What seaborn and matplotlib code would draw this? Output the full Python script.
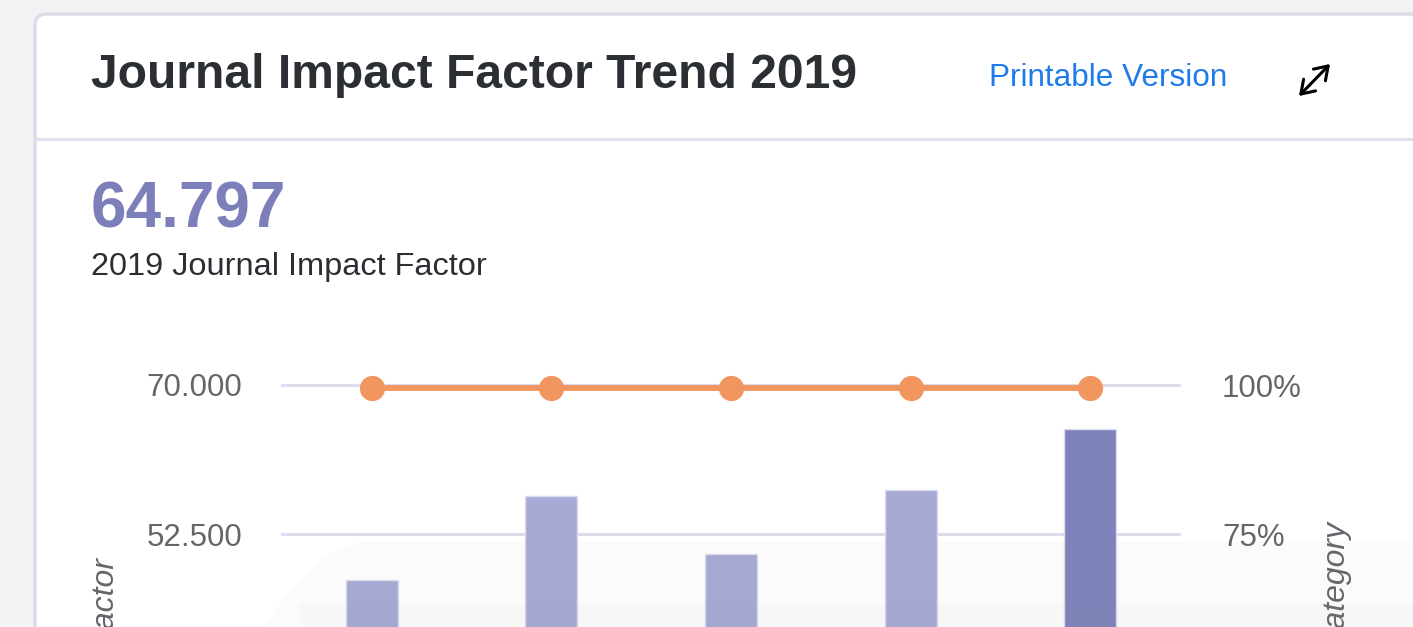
import matplotlib
matplotlib.use("Agg")
import matplotlib.pyplot as plt
import seaborn as sns
from matplotlib.patches import FancyBboxPatch, Polygon, FancyArrowPatch
from matplotlib.lines import Line2D

# data
years = ["2015", "2016", "2017", "2018", "2019"]
jif = [47.120, 57.000, 50.167, 57.618, 64.797]
percentile = [99.5, 99.5, 99.5, 99.5, 99.5]
jif_ticks = [52.5, 70.0]
pct_ticks = [75, 100]
bar_colors = ["#a6aad5", "#a6aad5", "#a6aad5", "#a6aad5", "#7e82ba"]

W, H = 1413, 627


def fx(px):
    return px / W


def fy(py):
    return 1 - py / H


sns.set_theme(style="white")
plt.rcParams['font.family'] = ['Liberation Sans', 'DejaVu Sans']

fig = plt.figure(figsize=(W / 100, H / 100), dpi=100)
fig.patch.set_facecolor('#f3f3f5')

# card
card = FancyBboxPatch((fx(35), fy(760)), fx(1600) - fx(35), fy(14) - fy(760),
                      boxstyle="round,pad=0,rounding_size=0.008", mutation_aspect=W / H,
                      transform=fig.transFigure, fc='white', ec='#dcdbe7', lw=2.5, zorder=-5)
fig.add_artist(card)
fig.add_artist(Line2D([fx(36), 1], [fy(139), fy(139)], transform=fig.transFigure,
                      color='#e1e0ee', lw=2.2))

# header texts
fig.text(fx(91), fy(88), "Journal Impact Factor Trend 2019", fontsize=34.6, fontweight='bold',
         color='#2b2f33', ha='left', va='baseline')
fig.text(fx(989), fy(86), "Printable Version", fontsize=22.7, color='#1f7bec',
         ha='left', va='baseline')
fig.add_artist(FancyArrowPatch((fx(1297), fy(98)), (fx(1332), fy(62)), transform=fig.transFigure,
                               arrowstyle='<->,head_length=0.45,head_width=0.3', color='black',
                               lw=2.2, mutation_scale=20))
fig.text(fx(91), fy(228), "64.797", fontsize=46, fontweight='bold', color='#7c7fba',
         ha='left', va='baseline')
fig.text(fx(91), fy(275), "2019 Journal Impact Factor", fontsize=23.4, color='#2b2f33',
         ha='left', va='baseline')

# chart axes, cut off at the bottom like the screenshot
ppu = 149 / 17.5
ylo = 70 - (H - 385) / ppu
yhi = 70 + (385 - 360) / ppu
ax = fig.add_axes([fx(281), 0, fx(1181) - fx(281), fy(360)])
ax.patch.set_alpha(0)

sns.barplot(x=years, y=jif, hue=years, palette=bar_colors, legend=False, width=0.29,
            saturation=1, edgecolor='#dcdcf0', linewidth=1, ax=ax)
ax.set_yticks(jif_ticks)
ax.set_yticklabels([f"{t:.3f}" for t in jif_ticks])
ax.set_ylim(ylo, yhi)
ax.yaxis.grid(True, color='#dddcec', lw=2.2)
ax.set_axisbelow(True)
ax.tick_params(axis='y', length=0, pad=28, labelsize=22.5, labelcolor='#63666a')
ax.tick_params(axis='x', bottom=False, labelbottom=False)
ax.set_xlabel('')
ax.set_ylabel('')
sns.despine(ax=ax, left=True, bottom=True)

k = 25 / 17.5
ax2 = ax.twinx()
sns.pointplot(x=years, y=percentile, color='#f0965e', markersize=15, linewidth=4.2, ax=ax2)
ax2.set_yticks(pct_ticks)
ax2.set_yticklabels([f"{t}%" for t in pct_ticks])
ax2.set_ylim(100 - (70 - ylo) * k, 100 + (yhi - 70) * k)
ax2.tick_params(axis='y', length=0, pad=29.5, labelsize=22.5, labelcolor='#63666a')
ax2.tick_params(axis='x', bottom=False, labelbottom=False)
ax2.set_xlabel('')
ax2.set_ylabel('')
for s in ax2.spines.values():
    s.set_visible(False)
ax.set_xlim(-0.505, 4.505)
ax2.set_xlim(-0.505, 4.505)

# axis titles (only their ends show)
fig.text(fx(106), fy(558), "Journal Impact Factor", rotation=90, fontsize=23, style='italic',
         color='#63666a', ha='center', va='top')
fig.text(fx(1337), fy(522), "JIF Percentile in Category", rotation=90, fontsize=23,
         style='italic', color='#63666a', ha='center', va='top')

# faint grey overlay at the bottom of the screenshot
pts = [(263, 627), (290, 590), (320, 560), (345, 546), (365, 542), (1413, 542), (1413, 627)]
fig.add_artist(Polygon([(fx(x), fy(y)) for x, y in pts], closed=True, transform=fig.transFigure,
                       fc='#9a9a9a', ec='none', alpha=0.04, zorder=5))
fig.add_artist(Polygon([(fx(300), fy(627)), (fx(300), fy(603)), (fx(1413), fy(603)),
                        (fx(1413), fy(627))], closed=True, transform=fig.transFigure,
                       fc='#9a9a9a', ec='none', alpha=0.03, zorder=5))

fig.savefig('out.png', dpi=100, facecolor=fig.get_facecolor())
